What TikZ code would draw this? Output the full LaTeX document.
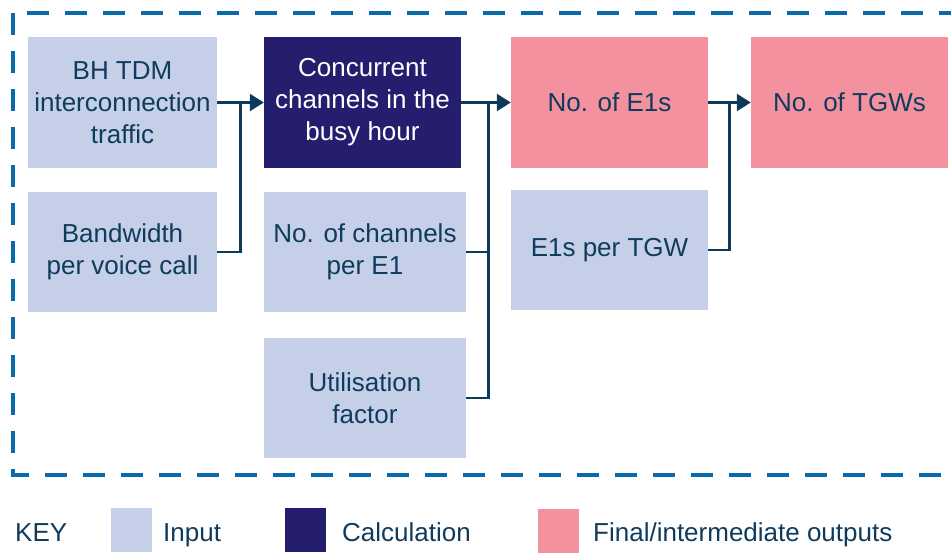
\documentclass[tikz,border=0pt]{standalone}
\usepackage{fontspec}
\setmainfont{Liberation Sans}
\usetikzlibrary{arrows.meta,calc}
\definecolor{inputc}{HTML}{C5D0E8}
\definecolor{calcc}{HTML}{251D6E}
\definecolor{outc}{HTML}{F4919E}
\definecolor{txtc}{HTML}{0F3B5C}
\definecolor{linec}{HTML}{0D3A5A}
\definecolor{borderc}{HTML}{0A6AB0}
\tikzset{
  box/.style={rectangle, inner sep=0pt, align=center, text=txtc,
    font=\fontsize{26}{32}\selectfont},
  inbox/.style={box, fill=inputc},
  calcbox/.style={box, fill=calcc, text=white},
  outbox/.style={box, fill=outc},
  conn/.style={draw=linec, line width=2.5pt, -{Triangle[length=14pt,width=17pt]}},
  plain/.style={draw=linec, line width=2.5pt},
  keytext/.style={text=txtc, font=\fontsize{26}{32}\selectfont, anchor=base west, inner sep=0pt},
  keybox/.style={rectangle, minimum width=41pt, minimum height=44pt, inner sep=0pt}
}
\begin{document}
\begin{tikzpicture}[x=1pt,y=-1pt]
\useasboundingbox (0,0) rectangle (951,552);
\draw[borderc, line width=4pt, dash pattern=on 22pt off 16pt] (13,13) rectangle (975,475);

\node[inbox, minimum width=189pt, minimum height=131pt] (bh) at (122.5,102.5) {BH TDM\\interconnection\\traffic};
\node[inbox, minimum width=189pt, minimum height=120pt] (bw) at (122.5,252) {Bandwidth\\per voice call};
\node[calcbox, minimum width=197pt, minimum height=131pt] (calc) at (362.5,102.5) {Concurrent\\channels in the\\busy hour};
\node[inbox, minimum width=202pt, minimum height=120pt] (ch) at (365,252) {No. of channels\\per E1};
\node[inbox, minimum width=202pt, minimum height=120pt] (util) at (365,398) {Utilisation\\factor};
\node[outbox, minimum width=197pt, minimum height=131pt] (e1s) at (609.5,102.5) {No. of E1s};
\node[inbox, minimum width=197pt, minimum height=120pt] (per) at (609.5,250) {E1s per TGW};
\node[outbox, minimum width=197pt, minimum height=131pt] (tgw) at (849.5,102.5) {No. of TGWs};

\coordinate (j1) at ($(bh.east)!0.5!(calc.west)$);
\coordinate (j2) at ($(calc.east)!0.55!(e1s.west)$);
\coordinate (j3) at ($(e1s.east)!0.5!(tgw.west)$);

\draw[conn] (bh.east) -- (calc.west);
\draw[plain] (bw.east) -| (j1);
\draw[conn] (calc.east) -- (e1s.west);
\draw[plain] (ch.east) -| (j2);
\draw[plain] (util.east) -| (j2);
\draw[conn] (e1s.east) -- (tgw.west);
\draw[plain] (per.east) -| (j3);

% key
\node[keytext] (key) at (15,541.5) {KEY};
\node[keybox, fill=inputc] (kin) at (131.5,530) {};
\node[keytext] (kint) at (163,541.5) {Input};
\node[keybox, fill=calcc] (kca) at (305.5,530) {};
\node[keytext] (kcat) at (342,541.5) {Calculation};
\node[keybox, fill=outc] (kout) at (558.5,530.5) {};
\node[keytext] (koutt) at (593,541.5) {Final/intermediate outputs};
\end{tikzpicture}
\end{document}
